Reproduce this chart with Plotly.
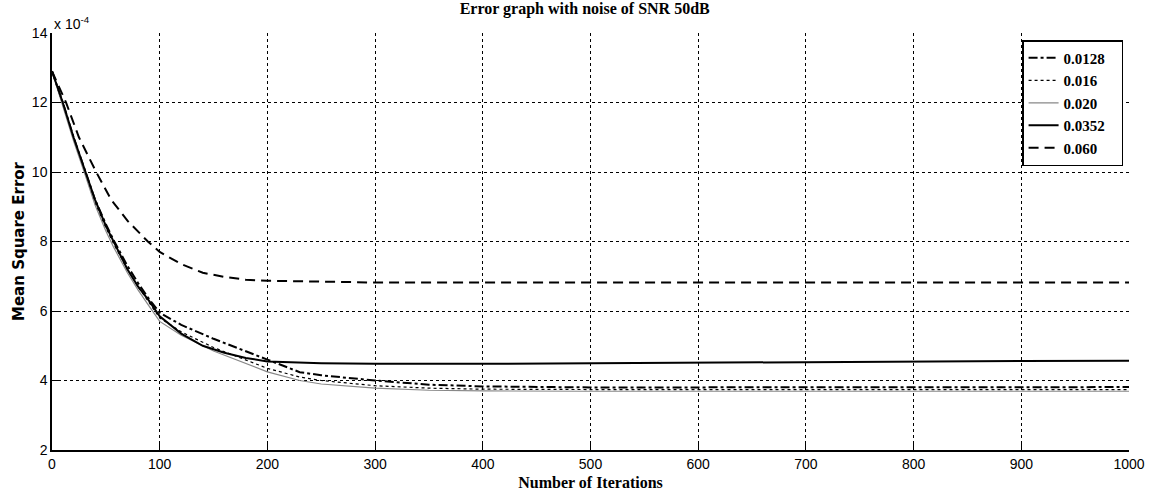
import plotly.graph_objects as go

# Values in units of 1e-4
it_solid = [0, 10, 20, 31, 40, 50, 57, 70, 80, 90, 100, 120, 140, 160, 180, 200, 250, 300, 400, 500, 600, 700, 800, 900, 1000]
mse_0352 = [12.9, 12.0, 11.0, 10.0, 9.2, 8.45, 8.0, 7.2, 6.7, 6.3, 5.85, 5.35, 5.0, 4.8, 4.65, 4.55, 4.5, 4.48, 4.48, 4.5, 4.5, 4.52, 4.55, 4.56, 4.57]

it_dash = [0, 13, 25, 41, 55, 70, 89, 100, 120, 140, 160, 180, 200, 250, 300, 400, 500, 600, 700, 800, 900, 1000]
mse_060 = [12.9, 12.0, 11.0, 10.0, 9.2, 8.6, 8.0, 7.7, 7.35, 7.1, 6.98, 6.9, 6.87, 6.84, 6.82, 6.82, 6.82, 6.82, 6.82, 6.82, 6.82, 6.82]

it_other = [0, 10, 20, 31, 40, 50, 57, 70, 80, 90, 100, 120, 150, 200, 230, 250, 300, 350, 400, 500, 600, 700, 800, 900, 1000]
mse_0128 = [12.9, 12.0, 11.0, 10.0, 9.2, 8.5, 8.05, 7.3, 6.8, 6.35, 5.95, 5.6, 5.2, 4.6, 4.24, 4.15, 4.0, 3.88, 3.83, 3.8, 3.8, 3.8, 3.8, 3.81, 3.81]
mse_016 = [12.9, 11.95, 10.95, 9.95, 9.1, 8.4, 7.95, 7.2, 6.7, 6.25, 5.8, 5.4, 4.95, 4.35, 4.1, 4.0, 3.85, 3.78, 3.75, 3.74, 3.74, 3.74, 3.74, 3.74, 3.74]
mse_020 = [12.9, 11.9, 10.9, 9.9, 9.05, 8.3, 7.85, 7.1, 6.6, 6.15, 5.7, 5.3, 4.85, 4.25, 4.0, 3.9, 3.78, 3.72, 3.7, 3.69, 3.69, 3.69, 3.69, 3.69, 3.69]

x_ticks = [0, 100, 200, 300, 400, 500, 600, 700, 800, 900, 1000]
y_ticks = [2, 4, 6, 8, 10, 12, 14]
legend_names = ["0.0128", "0.016", "0.020", "0.0352", "0.060"]

serif = "Liberation Serif"
sans = "Liberation Sans"
pad = "\u00a0\u00a0\u00a0"
fig = go.Figure()
fig.add_trace(go.Scatter(x=it_other, y=mse_0128, mode="lines", name="<b>" + legend_names[0] + "</b>" + pad,
                         line=dict(color="black", width=2, dash="dashdot")))
fig.add_trace(go.Scatter(x=it_other, y=mse_016, mode="lines", name="<b>" + legend_names[1] + "</b>" + pad,
                         line=dict(color="black", width=1.2, dash="dot")))
fig.add_trace(go.Scatter(x=it_other, y=mse_020, mode="lines", name="<b>" + legend_names[2] + "</b>" + pad,
                         line=dict(color="#888888", width=1.2)))
fig.add_trace(go.Scatter(x=it_solid, y=mse_0352, mode="lines", name="<b>" + legend_names[3] + "</b>" + pad,
                         line=dict(color="black", width=2)))
fig.add_trace(go.Scatter(x=it_dash, y=mse_060, mode="lines", name="<b>" + legend_names[4] + "</b>" + pad,
                         line=dict(color="black", width=2, dash="10px,6px")))

fig.update_layout(
    width=1151, height=495,
    margin=dict(l=52, r=22, t=33, b=45),
    paper_bgcolor="white", plot_bgcolor="white",
    title=dict(text="<b>Error graph with noise of SNR 50dB</b>", x=0.508, xanchor="center",
               y=0.995, yanchor="top", font=dict(family=serif, size=16, color="black")),
    showlegend=True,
    legend=dict(x=0.9945, y=0.983, xanchor="right", yanchor="top",
                bordercolor="black", borderwidth=1.5, bgcolor="white",
                font=dict(family=serif, size=15, color="black"),
                tracegroupgap=0, itemwidth=30),
    font=dict(family=sans, size=14, color="black"),
)
fig.update_xaxes(range=[0, 1000], tickvals=x_ticks, ticks="inside", ticklen=8, tickcolor="black",
                 showline=True, linecolor="black", linewidth=1.5, automargin=False,
                 showgrid=True, gridcolor="black", griddash="dot", gridwidth=1,
                 zeroline=False, tickfont=dict(family=sans, size=14),
                 title=dict(text="<b>Number of Iterations</b>", standoff=6,
                            font=dict(family=serif, size=16)))
fig.update_yaxes(range=[2, 14], tickvals=y_ticks, ticks="inside", ticklen=8, tickcolor="black",
                 showline=True, linecolor="black", linewidth=1.5, automargin=False,
                 showgrid=True, gridcolor="black", griddash="dot", gridwidth=1,
                 zeroline=False, tickfont=dict(family=sans, size=14),
                 title=dict(text="<b>Mean Square Error</b>", standoff=4,
                            font=dict(family="DejaVu Sans", size=15)))
fig.add_annotation(text="x 10<sup>-4</sup>", xref="paper", yref="paper", x=0.0, y=1.0,
                   xanchor="left", yanchor="bottom", showarrow=False, yshift=-1,
                   font=dict(family=sans, size=14, color="black"))

fig.write_html("out.html", config={"displayModeBar": False},
               post_script="document.body.style.margin='0px';")
